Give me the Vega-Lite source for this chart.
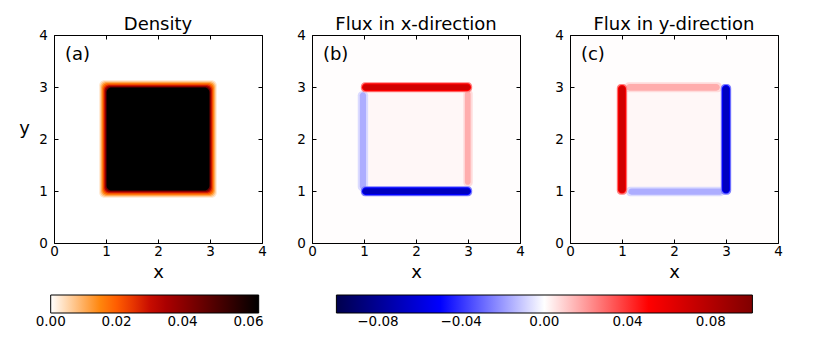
{
  "$schema": "https://vega.github.io/schema/vega-lite/v6.json",
  "background": "white",
  "padding": {"left": 18, "top": 15, "right": 5, "bottom": 5},
  "datasets": {
    "dens": [
      {"k": "bg", "x": 0, "x2": 4, "y": 0, "y2": 4, "v": 0},
      {"k": "s", "x": 0.87, "x2": 3.13, "y": 0.87, "y2": 3.13, "v": 0.003},
      {"k": "s", "x": 0.89, "x2": 3.11, "y": 0.89, "y2": 3.11, "v": 0.007},
      {"k": "s", "x": 0.91, "x2": 3.09, "y": 0.91, "y2": 3.09, "v": 0.012},
      {"k": "s", "x": 0.93, "x2": 3.07, "y": 0.93, "y2": 3.07, "v": 0.018},
      {"k": "s", "x": 0.95, "x2": 3.05, "y": 0.95, "y2": 3.05, "v": 0.025},
      {"k": "s", "x": 0.97, "x2": 3.03, "y": 0.97, "y2": 3.03, "v": 0.034},
      {"k": "s", "x": 0.99, "x2": 3.01, "y": 0.99, "y2": 3.01, "v": 0.046},
      {"k": "s", "x": 1.01, "x2": 2.99, "y": 1.01, "y2": 2.99, "v": 0.0631}
    ],
    "fx": [
      {"k": "bg", "x": 0, "x2": 4, "y": 0, "y2": 4, "v": 0.0003},
      {"k": "s", "x": 1.04, "x2": 2.96, "y": 1.05, "y2": 2.95, "v": 0.0015},
      {"k": "s", "x": 0.88, "x2": 1.08, "y": 1.0, "y2": 2.92, "v": -0.007},
      {"k": "s", "x": 0.92, "x2": 1.04, "y": 1.03, "y2": 2.9, "v": -0.016},
      {"k": "s", "x": 2.91, "x2": 3.09, "y": 1.08, "y2": 2.95, "v": 0.007},
      {"k": "s", "x": 2.94, "x2": 3.05, "y": 1.12, "y2": 2.92, "v": 0.016},
      {"k": "s", "x": 0.94, "x2": 3.08, "y": 2.9, "y2": 3.09, "v": 0.025},
      {"k": "s", "x": 0.96, "x2": 3.06, "y": 2.92, "y2": 3.07, "v": 0.05},
      {"k": "s", "x": 0.98, "x2": 3.04, "y": 2.94, "y2": 3.05, "v": 0.068},
      {"k": "s", "x": 0.94, "x2": 3.08, "y": 0.9, "y2": 1.09, "v": -0.025},
      {"k": "s", "x": 0.96, "x2": 3.06, "y": 0.92, "y2": 1.07, "v": -0.05},
      {"k": "s", "x": 0.98, "x2": 3.04, "y": 0.94, "y2": 1.05, "v": -0.068}
    ],
    "fy": [
      {"k": "bg", "x": 0, "x2": 4, "y": 0, "y2": 4, "v": 0.0003},
      {"k": "s", "x": 1.05, "x2": 2.95, "y": 1.04, "y2": 2.96, "v": 0.0015},
      {"k": "s", "x": 1.05, "x2": 2.92, "y": 2.9, "y2": 3.09, "v": 0.007},
      {"k": "s", "x": 1.08, "x2": 2.88, "y": 2.93, "y2": 3.06, "v": 0.016},
      {"k": "s", "x": 1.08, "x2": 2.97, "y": 0.9, "y2": 1.08, "v": -0.007},
      {"k": "s", "x": 1.12, "x2": 2.95, "y": 0.93, "y2": 1.05, "v": -0.016},
      {"k": "s", "x": 0.9, "x2": 1.1, "y": 0.93, "y2": 3.06, "v": 0.025},
      {"k": "s", "x": 0.92, "x2": 1.08, "y": 0.95, "y2": 3.04, "v": 0.05},
      {"k": "s", "x": 0.94, "x2": 1.06, "y": 0.97, "y2": 3.02, "v": 0.068},
      {"k": "s", "x": 2.9, "x2": 3.1, "y": 0.93, "y2": 3.06, "v": -0.025},
      {"k": "s", "x": 2.92, "x2": 3.08, "y": 0.95, "y2": 3.04, "v": -0.05},
      {"k": "s", "x": 2.94, "x2": 3.06, "y": 0.97, "y2": 3.02, "v": -0.068}
    ]
  },
  "hconcat": [
    {
      "width": 208, "height": 208,
      "title": {"text": "Density"},
      "data": {"name": "dens"},
      "layer": [
        {
          "encoding": {
            "x": {"field": "x", "type": "quantitative", "scale": {"domain": [0, 4], "nice": false, "zero": false}, "axis": {"orient": "bottom", "zindex": 2, "title": "x", "titleX": 104, "titleY": 34, "titleAlign": "center", "titleBaseline": "alphabetic"}},
            "x2": {"field": "x2"},
            "y": {"field": "y", "type": "quantitative", "scale": {"domain": [0, 4], "nice": false, "zero": false}, "axis": {"orient": "left", "zindex": 2, "title": "y", "titleAngle": 0, "titleX": -30, "titleY": 98, "titleAlign": "center", "titleBaseline": "alphabetic"}},
            "y2": {"field": "y2"},
            "color": {"field": "v", "type": "quantitative",
              "scale": {"domain": [0, 0.015775, 0.021033, 0.03155, 0.0631], "range": ["#ffffff", "#ff8000", "#ff5500", "#bf0000", "#000000"], "interpolate": "rgb"},
              "legend": {"title": null, "orient": "none", "direction": "horizontal", "legendX": -3.3, "legendY": 260, "gradientLength": 208, "gradientThickness": 18, "values": [0, 0.02, 0.04, 0.06], "format": ".2f",
                "encode": {"labels": {"update": {"align": {"value": "center"}}}}}}
          },
          "layer": [
            {"transform": [{"filter": "datum.k == 'bg'"}], "mark": {"type": "rect"}},
            {"transform": [{"filter": "datum.k != 'bg'"}], "mark": {"type": "rect", "cornerRadius": 5}}
          ]
        },
        {
          "data": {"values": [{"x": 0.21, "y": 3.62, "t": "(a)"}]},
          "mark": {"type": "text", "align": "left", "baseline": "middle", "fontSize": 18, "font": "DejaVu Sans", "color": "black"},
          "encoding": {
            "x": {"field": "x", "type": "quantitative", "scale": {"domain": [0, 4], "nice": false, "zero": false}, "axis": {"orient": "top", "zindex": 2, "labels": false, "title": null}},
            "y": {"field": "y", "type": "quantitative", "scale": {"domain": [0, 4], "nice": false, "zero": false}, "axis": {"orient": "right", "zindex": 2, "labels": false, "title": null}},
            "text": {"field": "t"}
          }
        }
      ],
      "resolve": {"axis": {"x": "independent", "y": "independent"}}
    },
    {
      "width": 208, "height": 208,
      "title": {"text": "Flux in x-direction"},
      "data": {"name": "fx"},
      "layer": [
        {
          "encoding": {
            "x": {"field": "x", "type": "quantitative", "scale": {"domain": [0, 4], "nice": false, "zero": false}, "axis": {"orient": "bottom", "zindex": 2, "title": "x", "titleX": 104, "titleY": 34, "titleAlign": "center", "titleBaseline": "alphabetic"}},
            "x2": {"field": "x2"},
            "y": {"field": "y", "type": "quantitative", "scale": {"domain": [0, 4], "nice": false, "zero": false}, "axis": {"orient": "left", "zindex": 2, "title": null}},
            "y2": {"field": "y2"},
            "color": {"field": "v", "type": "quantitative",
              "scale": {"domain": [-0.1, -0.05, 0, 0.05, 0.1], "range": ["#00004d", "#0000ff", "#ffffff", "#ff0000", "#800000"], "interpolate": "rgb"},
              "legend": {"title": null, "orient": "none", "direction": "horizontal", "legendX": 24.4, "legendY": 260, "gradientLength": 416, "gradientThickness": 18, "values": [-0.08, -0.04, 0, 0.04, 0.08], "format": ".2f",
                "encode": {"labels": {"update": {"align": {"value": "center"}}}}}}
          },
          "layer": [
            {"transform": [{"filter": "datum.k == 'bg'"}], "mark": {"type": "rect"}},
            {"transform": [{"filter": "datum.k != 'bg'"}], "mark": {"type": "rect", "cornerRadius": 4}}
          ]
        },
        {
          "data": {"values": [{"x": 0.21, "y": 3.62, "t": "(b)"}]},
          "mark": {"type": "text", "align": "left", "baseline": "middle", "fontSize": 18, "font": "DejaVu Sans", "color": "black"},
          "encoding": {
            "x": {"field": "x", "type": "quantitative", "scale": {"domain": [0, 4], "nice": false, "zero": false}, "axis": {"orient": "top", "zindex": 2, "labels": false, "title": null}},
            "y": {"field": "y", "type": "quantitative", "scale": {"domain": [0, 4], "nice": false, "zero": false}, "axis": {"orient": "right", "zindex": 2, "labels": false, "title": null}},
            "text": {"field": "t"}
          }
        }
      ],
      "resolve": {"axis": {"x": "independent", "y": "independent"}}
    },
    {
      "width": 208, "height": 208,
      "title": {"text": "Flux in y-direction"},
      "data": {"name": "fy"},
      "layer": [
        {
          "encoding": {
            "x": {"field": "x", "type": "quantitative", "scale": {"domain": [0, 4], "nice": false, "zero": false}, "axis": {"orient": "bottom", "zindex": 2, "title": "x", "titleX": 104, "titleY": 34, "titleAlign": "center", "titleBaseline": "alphabetic"}},
            "x2": {"field": "x2"},
            "y": {"field": "y", "type": "quantitative", "scale": {"domain": [0, 4], "nice": false, "zero": false}, "axis": {"orient": "left", "zindex": 2, "title": null}},
            "y2": {"field": "y2"},
            "color": {"field": "v", "type": "quantitative",
              "scale": {"domain": [-0.1, -0.05, 0, 0.05, 0.1], "range": ["#00004d", "#0000ff", "#ffffff", "#ff0000", "#800000"], "interpolate": "rgb"},
              "legend": null}
          },
          "layer": [
            {"transform": [{"filter": "datum.k == 'bg'"}], "mark": {"type": "rect"}},
            {"transform": [{"filter": "datum.k != 'bg'"}], "mark": {"type": "rect", "cornerRadius": 4}}
          ]
        },
        {
          "data": {"values": [{"x": 0.21, "y": 3.62, "t": "(c)"}]},
          "mark": {"type": "text", "align": "left", "baseline": "middle", "fontSize": 18, "font": "DejaVu Sans", "color": "black"},
          "encoding": {
            "x": {"field": "x", "type": "quantitative", "scale": {"domain": [0, 4], "nice": false, "zero": false}, "axis": {"orient": "top", "zindex": 2, "labels": false, "title": null}},
            "y": {"field": "y", "type": "quantitative", "scale": {"domain": [0, 4], "nice": false, "zero": false}, "axis": {"orient": "right", "zindex": 2, "labels": false, "title": null}},
            "text": {"field": "t"}
          }
        }
      ],
      "resolve": {"axis": {"x": "independent", "y": "independent"}}
    }
  ],
  "spacing": 50,
  "bounds": "flush",
  "resolve": {"scale": {"color": "independent"}, "legend": {"color": "independent"}},
  "config": {
    "font": "DejaVu Sans",
    "view": {"stroke": null},
    "axis": {"grid": false, "domain": true, "domainColor": "black", "domainWidth": 1, "tickColor": "black", "tickSize": -4, "tickWidth": 1, "tickCount": 4, "labelFontSize": 13.5, "labelColor": "black", "labelFlush": false, "labelOverlap": false, "titleFontSize": 18, "titleFontWeight": "normal", "titleColor": "black"},
    "axisX": {"labelPadding": 5},
    "axisY": {"labelPadding": 10.6},
    "title": {"fontSize": 18, "fontWeight": "normal", "color": "black", "baseline": "alphabetic", "offset": -5.5, "anchor": "middle"},
    "legend": {"labelFontSize": 13.5, "labelColor": "black", "labelOffset": 2, "gradientStrokeColor": "black", "gradientStrokeWidth": 1, "padding": 0}
  }
}
